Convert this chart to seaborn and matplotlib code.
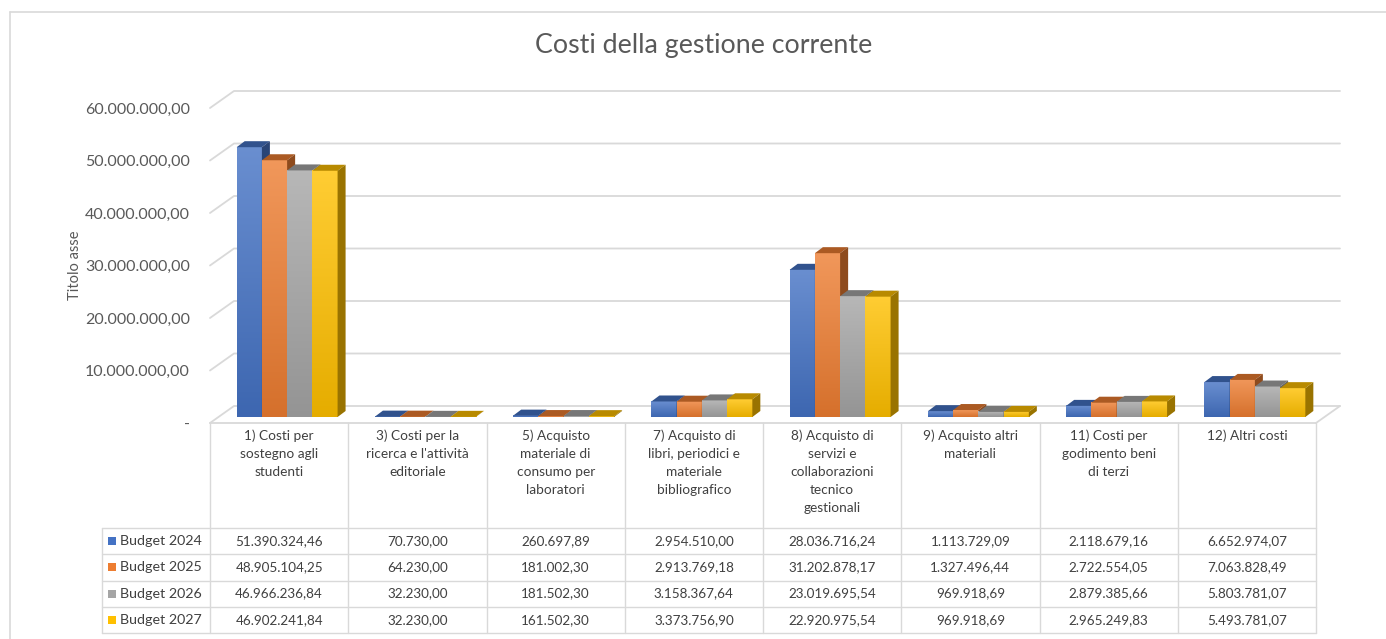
import numpy as np
import pandas as pd
import matplotlib
matplotlib.use("Agg")
import matplotlib.pyplot as plt
import seaborn as sns
from matplotlib.patches import Polygon, Rectangle
from matplotlib.lines import Line2D
from matplotlib.colors import LinearSegmentedColormap

# data
categories = [
    "1) Costi per\nsostegno agli\nstudenti",
    "3) Costi per la\nricerca e l'attività\neditoriale",
    "5) Acquisto\nmateriale di\nconsumo per\nlaboratori",
    "7) Acquisto di\nlibri, periodici e\nmateriale\nbibliografico",
    "8) Acquisto di\nservizi e\ncollaborazioni\ntecnico\ngestionali",
    "9) Acquisto altri\nmateriali",
    "11) Costi per\ngodimento beni\ndi terzi",
    "12) Altri costi",
]
series = ["Budget 2024", "Budget 2025", "Budget 2026", "Budget 2027"]
budget_2024 = [51390324.46, 70730.00, 260697.89, 2954510.00, 28036716.24, 1113729.09, 2118679.16, 6652974.07]
budget_2025 = [48905104.25, 64230.00, 181002.30, 2913769.18, 31202878.17, 1327496.44, 2722554.05, 7063828.49]
budget_2026 = [46966236.84, 32230.00, 181502.30, 3158367.64, 23019695.54, 969918.69, 2879385.66, 5803781.07]
budget_2027 = [46902241.84, 32230.00, 161502.30, 3373756.90, 22920975.54, 969918.69, 2965249.83, 5493781.07]
yticks = [0, 10e6, 20e6, 30e6, 40e6, 50e6, 60e6]

colors = ["#4472C4", "#ED7D31", "#A5A5A5", "#FFC000"]
text_col = "#595959"
grid_col = "#D9D9D9"


def fmt(v):
    # italian number format
    s = f"{v:,.2f}"
    return s.replace(",", "X").replace(".", ",").replace("X", ".")


values = [budget_2024, budget_2025, budget_2026, budget_2027]
df = pd.DataFrame({
    "categoria": categories * 4,
    "serie": np.repeat(series, len(categories)),
    "valore": np.concatenate(values),
})

sns.set_style("white")
plt.rcParams["font.family"] = ["Lato", "DejaVu Sans"]

W, H = 1386, 639
fig = plt.figure(figsize=(W / 100, H / 100), dpi=100)


def fx(px):
    return px / W


def fy(py):
    return 1 - py / H


# front plane of the chart
x_l, x_r, y_b, y_t = 210, 1316, 423, 108
ax = fig.add_axes([fx(x_l), fy(y_b), fx(x_r) - fx(x_l), fy(y_t) - fy(y_b)])
sns.barplot(data=df, x="categoria", y="valore", hue="serie", order=categories,
            hue_order=series, palette=colors, saturation=1, width=0.73,
            legend=False, ax=ax)

xmin, xmax, ymax = -0.5, len(categories) - 0.5, yticks[-1]
xpu = (x_r - x_l) / (xmax - xmin)
ypu = (y_b - y_t) / ymax


def dx(px):
    return px / xpu


def dy(px):
    return px / ypu


# back wall gridlines + floor
depth_x, depth_y = 24, 17
for v in yticks:
    ax.add_line(Line2D([xmin, xmin + dx(depth_x), xmax + dx(depth_x)],
                       [v, v + dy(depth_y), v + dy(depth_y)],
                       color=grid_col, lw=1.3, zorder=0.5, clip_on=False))
ax.add_line(Line2D([xmax, xmax + dx(depth_x)], [0, dy(depth_y)],
                   color=grid_col, lw=1.3, zorder=0.5, clip_on=False))

# 3d-ish bars
bars = sorted(ax.patches, key=lambda p: p.get_x())
grad = np.linspace(0, 1, 64).reshape(-1, 1)
for i, p in enumerate(bars):
    x0 = p.get_x() + dx(8)
    y0 = dy(6)
    w = p.get_width()
    h = p.get_height()
    base = np.array(p.get_facecolor()[:3])
    p.set_visible(False)
    z = 3 + i * 0.01
    cmap = LinearSegmentedColormap.from_list(
        "g", [base * 0.9, base + (1 - base) * 0.2])
    ax.imshow(grad, extent=(x0, x0 + w, y0, y0 + h), origin="lower",
              aspect="auto", cmap=cmap, zorder=z, interpolation="bilinear")
    ddx, ddy = dx(8), dy(6)
    ax.add_patch(Polygon([(x0, y0 + h), (x0 + w, y0 + h),
                          (x0 + w + ddx, y0 + h + ddy), (x0 + ddx, y0 + h + ddy)],
                         closed=True, facecolor=base * 0.72, edgecolor="none",
                         zorder=z + 0.001, clip_on=False))
    ax.add_patch(Polygon([(x0 + w, y0), (x0 + w + ddx, y0 + ddy),
                          (x0 + w + ddx, y0 + h + ddy), (x0 + w, y0 + h)],
                         closed=True, facecolor=base * 0.6, edgecolor="none",
                         zorder=z + 0.002, clip_on=False))

ax.set_xlim(xmin, xmax)
ax.set_ylim(0, ymax)
ax.set_yticks(yticks)
ax.set_yticklabels(["-" if v == 0 else fmt(v) for v in yticks])
ax.tick_params(axis="y", length=0, pad=14.5, labelsize=11.5, labelcolor=text_col)
ax.tick_params(axis="x", length=0, labelbottom=False)
ax.set_xlabel("")
ax.set_ylabel("")
for s in ax.spines.values():
    s.set_visible(False)
ax.patch.set_alpha(0)

# data table below the chart
t_left, t_head, t_bot = 102, 528, 633
ax_t = fig.add_axes([fx(t_left), fy(t_bot), fx(x_r) - fx(t_left), fy(y_b) - fy(t_bot)])
xl = xmin - (x_l - t_left) / xpu
ax_t.set_xlim(xl, xmax)
ax_t.set_ylim(t_bot, y_b)
ax_t.axis("off")
row_h = (t_bot - t_head) / len(series)
ax_t.plot([xmin, xmax], [y_b, y_b], color=grid_col, lw=1.3, clip_on=False)
for k in range(len(categories) + 1):
    ax_t.plot([xmin + k, xmin + k], [y_b, t_bot], color=grid_col, lw=1, clip_on=False)
ax_t.plot([xl, xl], [t_head, t_bot], color=grid_col, lw=1, clip_on=False)
for r in range(len(series) + 1):
    yy = t_head + r * row_h
    ax_t.plot([xl, xmax], [yy, yy], color=grid_col, lw=1, clip_on=False)

for i, cat in enumerate(categories):
    ax_t.text(i, 429, cat, ha="center", va="top", fontsize=9.8,
              color="#404040", linespacing=1.6)
for r, (name, vals) in enumerate(zip(series, values)):
    yc = t_head + (r + 0.5) * row_h
    ax_t.add_patch(Rectangle((xl + dx(6), yc - 4), dx(8), 8, facecolor=colors[r],
                             edgecolor="none", clip_on=False))
    ax_t.text(xl + dx(18), yc, name, ha="left", va="center", fontsize=10.3,
              color="#404040")
    for i, v in enumerate(vals):
        ax_t.text(i, yc, fmt(v), ha="center", va="center", fontsize=9.7,
                  color="#404040")

# titles and frame
fig.text(fx(704), fy(46), "Costi della gestione corrente", ha="center",
         va="center", fontsize=19.3, color=text_col)
fig.text(fx(75), fy(265), "Titolo asse", ha="center", va="center",
         rotation=90, fontsize=10.5, color=text_col)
fig.add_artist(Line2D([fx(10), 1], [fy(12), fy(12)], color=grid_col, lw=1.2))
fig.add_artist(Line2D([fx(10), fx(10)], [fy(12), 0], color=grid_col, lw=1.2))

fig.savefig("out.png", dpi=100)
